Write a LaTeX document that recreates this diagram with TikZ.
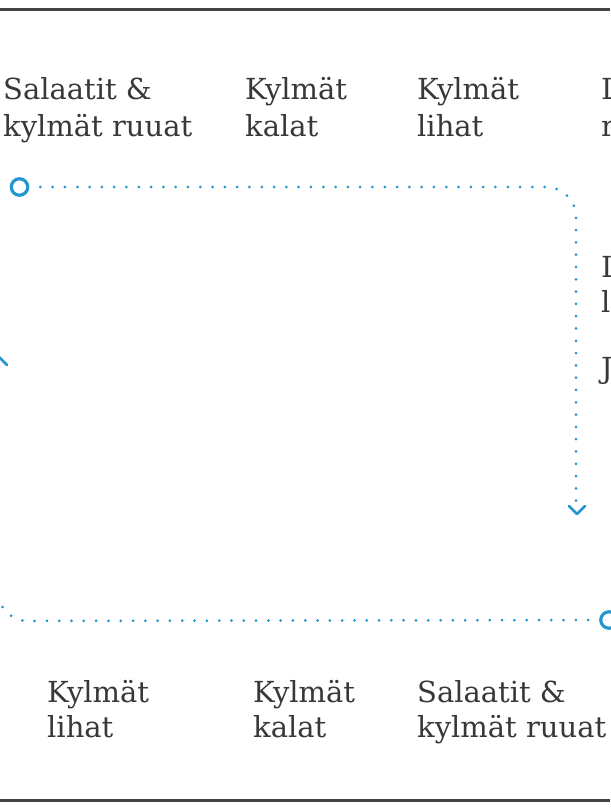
\documentclass[tikz,border=0pt]{standalone}
\usepackage{fontspec}
\setmainfont{DejaVu Serif}
\definecolor{dotblue}{HTML}{2496CF}
\definecolor{ink}{HTML}{383838}
\definecolor{rulegray}{HTML}{424242}
\begin{document}
\begin{tikzpicture}[x=1pt,y=-1pt,
  lbl/.style={anchor=base west, inner sep=0pt, text=ink, font=\fontsize{29}{37}\selectfont},
  dotline/.style={draw=dotblue, line width=3pt, line cap=round, dash pattern=on 0pt off 12.3pt, rounded corners=30pt},
  ring/.style={circle, draw=dotblue, line width=3.2pt, minimum size=16.5pt, inner sep=0pt},
  chev/.style={draw=dotblue, line width=2.8pt, line cap=round, line join=round},
  framerule/.style={draw=rulegray, line width=3pt}]
\useasboundingbox (0,0) rectangle (610,810);
% frame lines
\coordinate (fl1) at (0,10); \coordinate (fr1) at (610,10);
\coordinate (fl2) at (0,800); \coordinate (fr2) at (610,800);
\draw[framerule] (fl1) -- (fr1);
\draw[framerule] (fl2) -- (fr2);
% top labels
\node[lbl] (t1a) at (3,100) {Salaatit \&};
\node[lbl] (t1b) at (3,137) {kylmät ruuat};
\node[lbl] (t2a) at (245,100) {Kylmät};
\node[lbl] (t2b) at (245,137) {kalat};
\node[lbl] (t3a) at (417,100) {Kylmät};
\node[lbl] (t3b) at (417,137) {lihat};
\node[lbl] (t4a) at (601,100) {L};
\node[lbl] (t4b) at (601,137) {r};
\node[lbl] (t5a) at (601,277) {L};
\node[lbl] (t5b) at (601,312) {l};
\node[lbl] (t6a) at (601,378) {J};
% bottom labels
\node[lbl] (b1a) at (47,702) {Kylmät};
\node[lbl] (b1b) at (47,737) {lihat};
\node[lbl] (b2a) at (253,702) {Kylmät};
\node[lbl] (b2b) at (253,737) {kalat};
\node[lbl] (b3a) at (417,702) {Salaatit \&};
\node[lbl] (b3b) at (417,737) {kylmät ruuat};
% top route
\node[ring] (c1) at (19.5,187) {};
\coordinate (k1) at (576,187);
\coordinate (e1) at (576,502);
\draw[dotline, shorten <=11pt] (c1.east) -- (k1) -- (e1);
\coordinate (a1) at (577,514);
\coordinate (a1l) at (569,506);
\coordinate (a1r) at (585,506);
\draw[chev] (a1l) -- (a1) -- (a1r);
% bottom route
\node[ring] (c2) at (609,620) {};
\coordinate (k2) at (-2,621);
\coordinate (e2) at (-2,372);
\draw[dotline, shorten <=11pt] (c2.west) -- (k2) -- (e2);
\coordinate (a2) at (-1,357);
\coordinate (a2l) at (-9,365);
\coordinate (a2r) at (7,365);
\draw[chev] (a2l) -- (a2) -- (a2r);
\end{tikzpicture}
\end{document}
